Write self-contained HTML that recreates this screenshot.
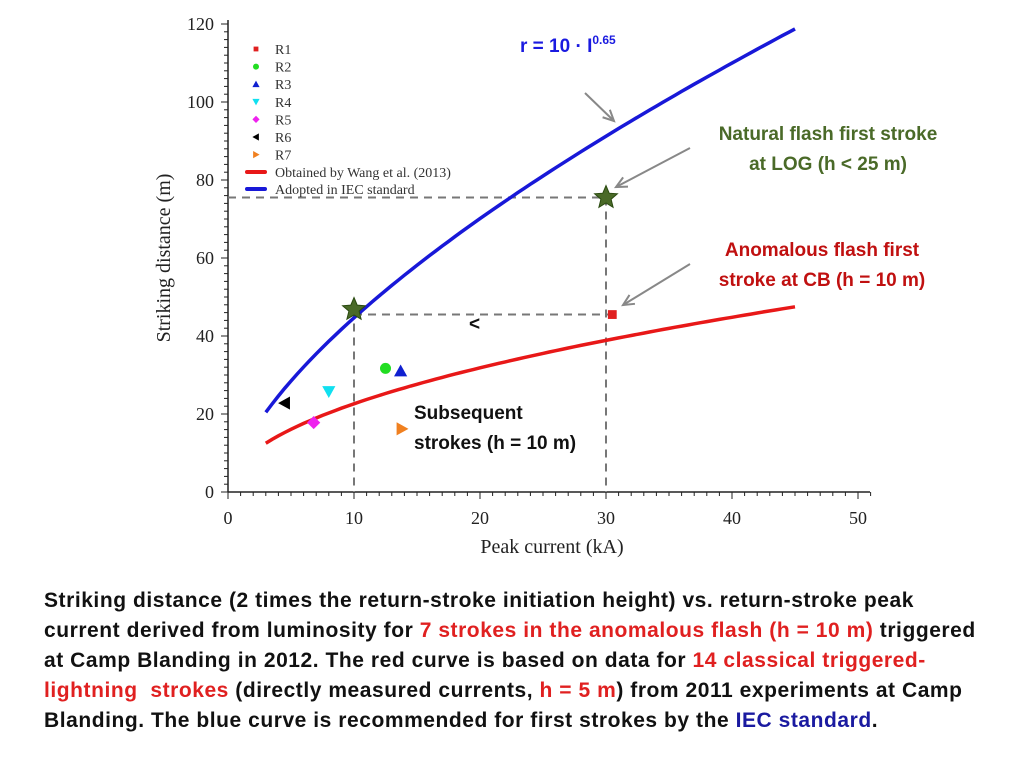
<!DOCTYPE html>
<html><head><meta charset="utf-8"><style>
body{margin:0;background:#fff;width:1024px;height:768px;overflow:hidden;position:relative;font-family:"Liberation Sans",sans-serif}
.cap{position:absolute;left:44px;top:586px;font-weight:bold;font-size:21px;letter-spacing:0.55px;line-height:30px;color:#111;white-space:nowrap}
.r{color:#e02020}.b{color:#1a1aa0}
</style></head><body>
<svg id="chart" width="1024" height="580" style="position:absolute;left:0;top:0" font-family="Liberation Serif, serif"></svg>
<div class="cap">Striking distance (2 times the return-stroke initiation height) vs. return-stroke peak<br>current derived from luminosity for <span class="r">7 strokes in the anomalous flash (h = 10 m)</span> triggered<br>at Camp Blanding in 2012. The red curve is based on data for <span class="r">14 classical triggered-</span><br><span class="r">lightning&nbsp; strokes</span> (directly measured currents, <span class="r">h = 5 m</span>) from 2011 experiments at Camp<br>Blanding. The blue curve is recommended for first strokes by the <span class="b">IEC standard</span>.</div>
<script>
const xTicks=[0,10,20,30,40,50];
const yTicks=[0,20,40,60,80,100,120];
const pointNames=["R1","R2","R3","R4","R5","R6","R7"];
const pointX=[30.5,12.5,13.7,8,6.8,4.5,13.8];
const pointY=[45.5,31.7,31,25.8,17.8,22.8,16.2];
const pointColors=["#e02020","#22dd22","#1020d0","#10e0f0","#ee22ee","#000","#f08020"];
const pointShapes=["square","circle","up","down","diamond","left","right"];
const iecCoef=[10,0.65];
const wangCoef=[7.27,0.493];
const curveRange=[3,45];
const starX=[10,30];
const starY=[46.8,75.5];
const ns="http://www.w3.org/2000/svg";
const svg=document.getElementById('chart');
const X=v=>228+v*12.6, Y=v=>492-v*3.9;
function el(t,a,p){const e=document.createElementNS(ns,t);for(const k in a)e.setAttribute(k,a[k]);(p||svg).appendChild(e);return e;}
let ax=el('line',{x1:228,y1:492,x2:870,y2:492,stroke:'#222','stroke-width':1.5});


ax=el('line',{x1:228,y1:492,x2:228,y2:20,stroke:'#222','stroke-width':1.5});


for(let i=0;i<=51;i++){const maj=i%10==0;el('line',{x1:X(i),x2:X(i),y1:492,y2:492+(maj?7:4),stroke:'#222'});}
for(let i=0;i<=120;i+=2){const maj=i%20==0;el('line',{x1:228,x2:228-(maj?7:4),y1:Y(i),y2:Y(i),stroke:'#222'});}
xTicks.forEach(v=>{const t=el('text',{x:X(v),y:524,'text-anchor':'middle','font-size':18,fill:'#222'});t.textContent=v;

});
yTicks.forEach(v=>{const t=el('text',{x:214,y:Y(v)+6,'text-anchor':'end','font-size':18,fill:'#222'});t.textContent=v;

});
let t=el('text',{x:552,y:553,'text-anchor':'middle','font-size':20,fill:'#222'});t.textContent='Peak current (kA)';


t=el('text',{x:0,y:0,'text-anchor':'middle','font-size':20,fill:'#222',transform:'translate(170,258) rotate(-90)'});t.textContent='Striking distance (m)';


const dash={stroke:'#777','stroke-width':2,'stroke-dasharray':'8,6',fill:'none'};
let g=el('path',Object.assign({d:`M${X(0)},${Y(starY[1])}H${X(30)}V${Y(0)}M${X(10)},${Y(pointY[0])}H${X(pointX[0])}M${X(10)},${Y(starY[0])}V${Y(0)}`},dash));


function curve(c,color,name){let d='';for(let i=curveRange[0];i<=curveRange[1]+1e-9;i+=0.5){d+=(d?'L':'M')+X(i).toFixed(1)+','+Y(c[0]*Math.pow(i,c[1])).toFixed(1);}
const p=el('path',{d:d,stroke:color,'stroke-width':3.5,fill:'none'});

}
curve(wangCoef,'#e81818','wang-curve');
curve(iecCoef,'#1818d8','iec-curve');
function marker(shape,cx,cy,s,color,parent){
if(shape=='square')return el('rect',{x:cx-s*0.8,y:cy-s*0.8,width:s*1.6,height:s*1.6,fill:color},parent);
if(shape=='circle')return el('circle',{cx:cx,cy:cy,r:s,fill:color},parent);
const pts={up:[[0,-1],[1,0.8],[-1,0.8]],down:[[0,1],[1,-0.8],[-1,-0.8]],left:[[-1,0],[0.8,-1],[0.8,1]],right:[[1,0],[-0.8,-1],[-0.8,1]],diamond:[[0,-1],[1,0],[0,1],[-1,0]]}[shape];
return el('polygon',{points:pts.map(p=>(cx+p[0]*s*1.2)+','+(cy+p[1]*s*1.2)).join(' '),fill:color},parent);}
pointX.forEach((v,i)=>{const m=marker(pointShapes[i],X(v),Y(pointY[i]),5.5,pointColors[i]);

});
function star(cx,cy,r){let p=[];for(let k=0;k<10;k++){const a=-Math.PI/2+k*Math.PI/5,rr=k%2?r*0.45:r;p.push((cx+rr*Math.cos(a)).toFixed(1)+','+(cy+rr*Math.sin(a)).toFixed(1));}return p.join(' ');}
starX.forEach((v,i)=>{const s=el('polygon',{points:star(X(v),Y(starY[i]),12),fill:'#4a6a28',stroke:'#2a4a10'});

});
const lg=el('g',{});


pointNames.forEach((n,i)=>{const y=49+i*17.6;marker(pointShapes[i],256,y,3,pointColors[i],lg);const tt=el('text',{x:275,y:y+5,'font-size':14,fill:'#333'},lg);tt.textContent=n;});
[['#e81818','Obtained by Wang et al. (2013)'],['#1818d8','Adopted in IEC standard']].forEach((a,i)=>{const y=172+i*17;el('line',{x1:247,x2:265,y1:y,y2:y,stroke:a[0],'stroke-width':4,'stroke-linecap':'round'},lg);const tt=el('text',{x:275,y:y+5,'font-size':14,fill:'#333'},lg);tt.textContent=a[1];});
function arrow(x1,y1,x2,y2){const l=el('line',{x1,y1,x2,y2,stroke:'#888','stroke-width':2});const a=Math.atan2(y2-y1,x2-x1),h=12;
el('path',{d:`M${x2-h*Math.cos(a-0.45)},${y2-h*Math.sin(a-0.45)}L${x2},${y2}L${x2-h*Math.cos(a+0.45)},${y2-h*Math.sin(a+0.45)}`,stroke:'#888','stroke-width':2,fill:'none'});

}
arrow(585,93,614,121);arrow(690,148,616,187);arrow(690,264,623,305);
function label(x,y,txt,color,anchor,size){const tt=el('text',{x,y,'font-family':'Liberation Sans, sans-serif','font-weight':'bold','font-size':size||19,fill:color,'text-anchor':anchor||'start'});tt.innerHTML=txt;

}
label(520,52,'r = 10 · I<tspan font-size="12" dy="-8">0.65</tspan>','#1a1ae0');
label(828,140,'Natural flash first stroke','#4a6a28','middle');
label(828,170,'at LOG (h &lt; 25 m)','#4a6a28','middle');
label(822,256,'Anomalous flash first','#c01010','middle');
label(822,286,'stroke at CB (h = 10 m)','#c01010','middle');
label(414,419,'Subsequent','#111');
label(414,449,'strokes (h = 10 m)','#111');
label(469,330,'&lt;','#111');
</script>
</body></html>
